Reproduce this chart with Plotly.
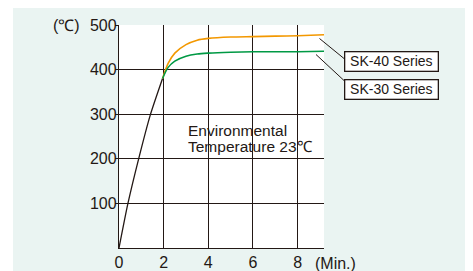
import plotly.graph_objects as go

# ---- data ----
heat_x = [0, 0.4, 0.88, 1.4, 1.95]
heat_y = [0, 100, 200, 298, 380]

sk40_x = [1.95, 2.2, 2.5, 3.0, 3.5, 4.0, 5.0, 6.0, 7.0, 8.0, 9.18]
sk40_y = [380, 414, 437, 456, 466, 470, 473, 474, 475, 476, 478]

sk30_x = [1.95, 2.2, 2.5, 3.0, 3.5, 4.0, 5.0, 6.0, 7.0, 8.0, 9.18]
sk30_y = [380, 405, 419, 430, 435, 437, 439, 440, 440, 440, 441]

x_ticks = [0, 2, 4, 6, 8]
y_ticks = [100, 200, 300, 400, 500]
series_labels = ["SK-40 Series", "SK-30 Series"]

INK = "#231815"
ORANGE = "#F39800"
GREEN = "#009944"
PANEL = "#EAF4F2"
FONT = "Liberation Sans, Arial, sans-serif"

# page is offset by the default 8px body margin
OFF = 8
W, H = 473 - OFF, 271 - OFF
L, T = 119 - OFF, 25 - OFF
PW, PH = 205, 223
R = W - L - PW
B = H - T - PH


def px_x(p):
    return (p - OFF - L) / PW


def px_y(p):
    return (T + PH - (p - OFF)) / PH


fig = go.Figure()
fig.add_trace(go.Scatter(x=heat_x, y=heat_y, mode="lines",
                         line=dict(color=INK, width=1.3, shape="spline", smoothing=0.6),
                         hoverinfo="skip"))
fig.add_trace(go.Scatter(x=sk40_x, y=sk40_y, mode="lines",
                         line=dict(color=ORANGE, width=1.6, shape="spline", smoothing=0.8),
                         hoverinfo="skip"))
fig.add_trace(go.Scatter(x=sk30_x, y=sk30_y, mode="lines",
                         line=dict(color=GREEN, width=1.6, shape="spline", smoothing=0.8),
                         hoverinfo="skip"))

shapes = [
    dict(type="rect", xref="paper", yref="paper", layer="below",
         x0=px_x(13), x1=px_x(480), y0=px_y(280), y1=px_y(8),
         fillcolor=PANEL, line=dict(width=0)),
    dict(type="rect", xref="paper", yref="paper", layer="below",
         x0=0, x1=1, y0=0, y1=1, fillcolor="white", line=dict(width=0)),
    dict(type="line", xref="paper", yref="paper",
         x0=px_x(319.5), y0=px_y(38.5), x1=px_x(344), y1=px_y(58.5),
         line=dict(color=INK, width=1)),
    dict(type="line", xref="paper", yref="paper",
         x0=px_x(316), y0=px_y(54.5), x1=px_x(344), y1=px_y(80.5),
         line=dict(color=INK, width=1)),
]

annotations = [
    dict(text="Environmental", x=px_x(186), y=px_y(130), xref="paper", yref="paper",
         xanchor="left", yanchor="middle", showarrow=False,
         font=dict(size=15.5, color=INK, family=FONT)),
    dict(text="Temperature 23℃", x=px_x(186), y=px_y(146), xref="paper", yref="paper",
         xanchor="left", yanchor="middle", showarrow=False,
         font=dict(size=15.5, color=INK, family=FONT)),
    dict(text="(℃)", x=px_x(66.5), y=px_y(25.5), xref="paper", yref="paper",
         xanchor="center", yanchor="middle", showarrow=False,
         font=dict(size=16, color=INK, family=FONT)),
    dict(text="(Min.)", x=px_x(335.5), y=px_y(263), xref="paper", yref="paper",
         xanchor="center", yanchor="middle", showarrow=False,
         font=dict(size=16, color=INK, family=FONT)),
]
for lab, cy in zip(series_labels, [61.7, 89.7]):
    annotations.append(dict(
        text=lab, x=px_x(391.7), y=px_y(cy), xref="paper", yref="paper",
        xanchor="center", yanchor="middle", showarrow=False,
        bgcolor="white", bordercolor=INK, borderwidth=1.3, borderpad=0,
        width=92, height=18,
        font=dict(size=14, color=INK, family=FONT)))

fig.update_layout(
    width=W, height=H,
    margin=dict(l=L, r=R, t=T, b=B, pad=0, autoexpand=False),
    paper_bgcolor="white",
    plot_bgcolor="white",
    showlegend=False,
    shapes=shapes,
    annotations=annotations,
    font=dict(family=FONT, size=16, color=INK),
    xaxis=dict(range=[0, 9.18], tickvals=x_ticks, ticktext=[str(v) for v in x_ticks],
               showgrid=True, gridcolor=INK, gridwidth=1.4,
               showline=True, linecolor=INK, linewidth=1.4,
               zeroline=False, ticks="", tickfont=dict(size=16, color=INK),
               automargin=False, fixedrange=True),
    yaxis=dict(range=[0, 500], tickvals=y_ticks, ticktext=[str(v) for v in y_ticks],
               showgrid=True, gridcolor=INK, gridwidth=1.4,
               showline=True, linecolor=INK, linewidth=1.4,
               zeroline=False, ticks="outside", ticklen=3, tickwidth=1.4, tickcolor=INK,
               ticklabelstandoff=-5,
               tickfont=dict(size=16, color=INK),
               automargin=False, fixedrange=True),
)

fig.write_html("out.html")
